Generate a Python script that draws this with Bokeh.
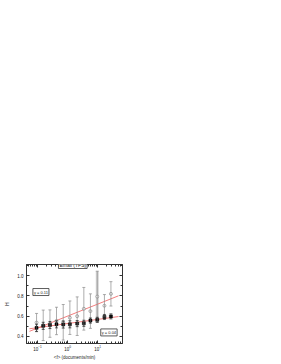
import numpy as np
from bokeh.plotting import figure
from bokeh.models import (ColumnDataSource, Whisker, TeeHead, Label,
                          LinearAxis, FixedTicker, LogTickFormatter, Range1d,
                          CustomJSTickFormatter, NumeralTickFormatter)
from bokeh.embed import file_html
from bokeh.resources import INLINE

# ---- data ----
f_mean = [0.093, 0.155, 0.26, 0.43, 0.72, 1.2, 2.1, 3.5, 5.8, 9.8, 17, 28]
H_filled = [0.485, 0.505, 0.513, 0.520, 0.518, 0.520, 0.527, 0.530, 0.557, 0.564, 0.592, 0.598]
H_filled_err = [0.035, 0.035, 0.035, 0.035, 0.035, 0.035, 0.03, 0.03, 0.025, 0.025, 0.025, 0.025]
H_open = [0.537, 0.510, 0.527, 0.553, 0.540, 0.585, 0.600, 0.673, 0.650, 0.793, 0.703, 0.820]
H_open_err = [0.09, 0.15, 0.135, 0.135, 0.175, 0.165, 0.19, 0.21, 0.17, 0.25, 0.11, 0.12]
fit_extent = [0.054, 50]
x_ticks = [0.1, 1, 10]
y_ticks = [0.4, 0.6, 0.8, 1.0]
title_text = "Email (TFS)"
label_open = "γ = 0.11"
label_filled = "γ = 0.04"
x_label = "<f> (documents/min)"
y_label = "H"

FONT = "Liberation Sans"
AX = "#333333"

p = figure(width=273, height=364, x_axis_type="log",
           x_range=Range1d(0.043, 68), y_range=Range1d(0.331, 1.109),
           output_backend="svg", toolbar_location=None,
           min_border_left=26, min_border_right=151,
           min_border_top=264, min_border_bottom=21,
           x_axis_label=x_label, y_axis_label=y_label)
p.grid.visible = False
p.outline_line_color = AX
p.background_fill_color = "white"
p.border_fill_color = "white"

xminor = [k * 10.0 ** e for e in (-2, -1, 0, 1) for k in range(2, 10)]
xt = FixedTicker(ticks=x_ticks, minor_ticks=xminor)
yminor = [t + 0.1 for t in [0.2] + y_ticks]
yt = FixedTicker(ticks=y_ticks, minor_ticks=yminor)


def style(ax):
    ax.axis_line_color = AX
    ax.major_tick_line_color = AX
    ax.minor_tick_line_color = AX
    ax.major_tick_in = 3
    ax.major_tick_out = 0
    ax.minor_tick_in = 2
    ax.minor_tick_out = 0
    ax.major_label_text_font = FONT
    ax.major_label_text_font_size = "4.5px"
    ax.major_label_text_color = "#222222"
    ax.axis_label_text_font = FONT
    ax.axis_label_text_font_size = "4.5px"
    ax.axis_label_text_font_style = "normal"
    ax.axis_label_text_color = "#222222"
    ax.major_label_standoff = 2
    ax.axis_label_standoff = 2


p.xaxis.ticker = xt
p.xaxis.formatter = LogTickFormatter()
p.yaxis.ticker = yt
p.yaxis.formatter = NumeralTickFormatter(format="0.0")
for ax in p.xaxis + p.yaxis:
    style(ax)
p.xaxis.major_label_standoff = 1
p.xaxis.axis_label_standoff = 1
p.yaxis.major_label_standoff = 3
p.yaxis.axis_label_standoff = 4

blank = CustomJSTickFormatter(code="return ' ';")
top = LinearAxis(ticker=xt, formatter=blank)
style(top)
p.add_layout(top, "above")
right = LinearAxis(ticker=yt, formatter=blank)
style(right)
p.add_layout(right, "right")

# ---- sources ----
src_open = ColumnDataSource(dict(
    x=f_mean, y=H_open,
    upper=[h + e for h, e in zip(H_open, H_open_err)],
    lower=[h - e for h, e in zip(H_open, H_open_err)]))
src_filled = ColumnDataSource(dict(
    x=f_mean, y=H_filled,
    upper=[h + e for h, e in zip(H_filled, H_filled_err)],
    lower=[h - e for h, e in zip(H_filled, H_filled_err)]))

# highlighted wide bar (largest open-circle error)
imax = int(np.argmax(H_open_err))
src_wide = ColumnDataSource(dict(
    x=[f_mean[imax]], upper=[H_open[imax] + H_open_err[imax]],
    lower=[H_open[imax] - H_open_err[imax]]))
p.segment(x0="x", y0="lower", x1="x", y1="upper", source=src_wide,
          line_color="#d4d4d4", line_width=3)

w_open = Whisker(base="x", upper="upper", lower="lower", source=src_open,
                 line_color="#8a8a8a", line_width=0.7,
                 upper_head=TeeHead(size=3, line_color="#8a8a8a", line_width=0.7),
                 lower_head=TeeHead(size=3, line_color="#8a8a8a", line_width=0.7))
w_open.level = "glyph"
p.add_layout(w_open)
w_fill = Whisker(base="x", upper="upper", lower="lower", source=src_filled,
                 line_color="#222222", line_width=0.7,
                 upper_head=TeeHead(size=3, line_color="#222222", line_width=0.7),
                 lower_head=TeeHead(size=3, line_color="#222222", line_width=0.7))
w_fill.level = "glyph"
p.add_layout(w_fill)

# ---- fit lines (linear in log<f>) ----
lx = np.log10(np.array(f_mean))
ext = np.log10(np.array(fit_extent))
for H in (H_open, H_filled):
    b, a = np.polyfit(lx, np.array(H), 1)
    p.line(x=list(10 ** ext), y=list(a + b * ext), line_color="#f07070", line_width=0.9)

p.scatter(x="x", y="y", source=src_open, marker="circle", size=3,
          fill_color="white", line_color="#777777", line_width=0.6)
p.scatter(x="x", y="y", source=src_filled, marker="square", size=3,
          fill_color="black", line_color="black", line_width=0.5)

# ---- text boxes ----
for (tx, ty, txt, fs) in [(1.5, 1.109, title_text, "5px"),
                          (0.13, 0.838, label_open, "4px"),
                          (24, 0.44, label_filled, "4px")]:
    p.add_layout(Label(x=tx, y=ty, text=txt, text_align="center",
                       text_baseline="middle", text_font=FONT,
                       text_font_size=fs, text_color="#222222",
                       background_fill_color="white",
                       border_line_color=AX, border_line_width=0.8,
                       padding=1))

open("out.html", "w").write(file_html(p, INLINE))
